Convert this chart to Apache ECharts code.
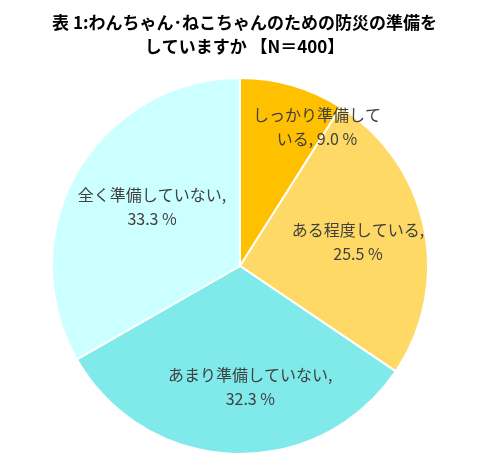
<!DOCTYPE html>
<html>
<head>
<meta charset="utf-8">
<script src="https://cdn.jsdelivr.net/npm/echarts@6/dist/echarts.min.js"></script>
</head>
<body style="margin:0">
<div id="main" style="width:489px;height:465px;"></div>
<script>
var names = ['しっかり準備して\nいる', 'ある程度している', 'あまり準備していない', '全く準備していない'];
var values = [9.0, 25.5, 32.3, 33.3];
var colors = ['#FFC000', '#FFD966', '#80EAEA', '#CCFFFF'];
var offsets = [[50, -46], [23, -4], [14, 24], [-4, -10]];

var chart = echarts.init(document.getElementById('main'));
chart.setOption({
  title: {
    text: '表 1:わんちゃん･ねこちゃんのための防災の準備を\nしていますか 【N＝400】',
    left: 'center', top: 6,
    textStyle: { fontSize: 17, fontWeight: 'bold', color: '#000', lineHeight: 24,
      fontFamily: 'Noto Sans CJK JP' }
  },
  series: [{
    type: 'pie',
    center: [240, 266],
    radius: [0, 188],
    startAngle: 90,
    clockwise: true,
    animation: false,
    itemStyle: { borderColor: '#fff', borderWidth: 2 },
    label: {
      position: 'inside',
      color: '#404040',
      fontSize: 16,
      lineHeight: 24,
      fontFamily: 'Noto Sans CJK JP',
      formatter: function (p) {
        return p.name + ', ' + p.value.toFixed(1) + ' %';
      }
    },
    data: names.map(function (n, i) {
      var d = { name: n, value: values[i], itemStyle: { color: colors[i] },
        label: { offset: offsets[i] } };
      if (i === 1) d.name = n;
      if (i > 0) d.label.formatter = function (p) { return p.name + ',\n' + p.value.toFixed(1) + ' %'; };
      return d;
    })
  }]
});
</script>
</body>
</html>
